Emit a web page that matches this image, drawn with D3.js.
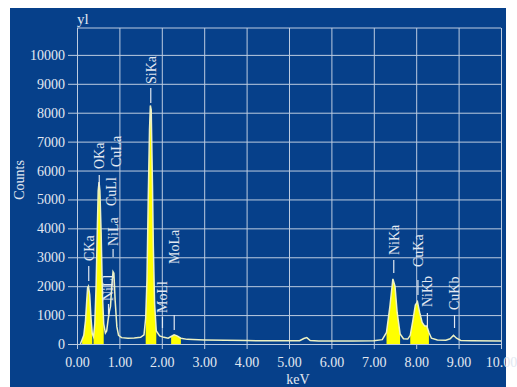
<!DOCTYPE html>
<html>
<head>
<meta charset="utf-8">
<script src="https://cdn.jsdelivr.net/npm/d3@7"></script>
<style>
  html, body { margin: 0; padding: 0; background: #ffffff; }
  svg { display: block; font-family: "Liberation Serif", "DejaVu Serif", serif; }
</style>
</head>
<body>
<figure id="eds" style="margin:0"></figure>
<script>
// spectrum (keV, counts)
const energies = [0.08, 0.12, 0.16, 0.20, 0.23, 0.25, 0.27, 0.30, 0.33, 0.36, 0.39, 0.42, 0.45, 0.48, 0.50, 0.52, 0.54, 0.57, 0.60, 0.63, 0.67,
  0.70, 0.73, 0.76, 0.79, 0.82, 0.85, 0.87, 0.90, 0.94, 0.98, 1.05, 1.20, 1.35, 1.50, 1.58, 1.62, 1.65, 1.68, 1.71, 1.73, 1.75, 1.78,
  1.80, 1.83, 1.87, 1.95, 2.05, 2.15, 2.22, 2.29, 2.36, 2.45, 2.60, 3.00, 3.50, 4.00, 4.50, 5.00, 5.25, 5.35, 5.42, 5.50, 5.70, 6.00, 6.50,
  7.00, 7.20, 7.30, 7.38, 7.45, 7.50, 7.55, 7.62, 7.70, 7.80, 7.86, 7.92, 7.98, 8.03, 8.08, 8.14, 8.20, 8.25, 8.30, 8.36, 8.50, 8.70,
  8.80, 8.88, 8.95, 9.05, 9.30, 10.00];
const counts = [0, 150, 300, 800, 1500, 1950, 2000, 1700, 900, 350, 250, 700, 2000, 4000, 5300, 5600, 5300, 3800, 1700, 700, 380,
  450, 800, 1100, 1300, 2000, 2500, 2450, 1500, 600, 300, 220, 200, 210, 230, 320, 900, 2200, 5000, 7400, 8250, 8100, 5500,
  3400, 1400, 450, 280, 230, 200, 260, 320, 280, 200, 160, 140, 130, 120, 110, 110, 115, 190, 220, 120, 105, 100, 100,
  110, 150, 400, 1300, 2250, 2000, 1100, 350, 180, 170, 300, 800, 1350, 1460, 1100, 750, 620, 620, 400, 200, 140, 130,
  180, 300, 200, 120, 110, 100];

// energy windows shaded yellow
const windowStart = [0.10, 0.38, 1.60, 2.18, 7.28, 7.84];
const windowEnd   = [0.37, 0.63, 1.88, 2.45, 7.64, 8.30];

// peak labels
const peakNames    = ["CKa", "OKa", "NiLl", "CuLl", "NiLa", "CuLa", "SiKa", "MoLl", "MoLa", "NiKa", "CuKa", "NiKb", "CuKb"];
const peakEnergies = [0.277, 0.525, 0.743, 0.811, 0.851, 0.930, 1.740, 2.016, 2.293, 7.471, 8.041, 8.264, 8.904];

const xTicks = [0, 1, 2, 3, 4, 5, 6, 7, 8, 9, 10];
const yTicks = [0, 1000, 2000, 3000, 4000, 5000, 6000, 7000, 8000, 9000, 10000];

// label placement in pixels: [text bottom, dash top, dash bottom]
const labelPos = {
  CKa: [261, 266, 281], OKa: [169, 175, 187], NiLl: [301, 304, 314], CuLl: [206, null, null],
  NiLa: [246, 249, 257], CuLa: [167, null, null], SiKa: [84, 88, 103], MoLl: [313, 317, 328],
  MoLa: [264, 315, 330], NiKa: [255, 260, 273], CuKa: [267, 280, 295], NiKb: [307, 313, 327],
  CuKb: [310, 315, 328]
};

const W = 517, H = 387;
const plotL = 77, plotR = 501, plotT = 28, plotB = 344;
const textCol = "#e2e8f1";
const gridCol = "#bccbe0";

const svg = d3.select("figure#eds").append("svg")
  .attr("width", W).attr("height", H);

// dark blue panel
svg.append("rect")
  .attr("x", 10).attr("y", 8).attr("width", 496).attr("height", H - 8)
  .attr("fill", "#06408a");

const x = d3.scaleLinear().domain([0, 10]).range([plotL, plotR]);
const y = d3.scaleLinear().domain([0, 10930]).range([plotB, plotT]);

// y axis + horizontal grid
const gy = svg.append("g")
  .attr("transform", "translate(" + plotL + ",0)")
  .call(d3.axisLeft(y).tickValues(yTicks).tickFormat(d3.format("d"))
    .tickSizeInner(-(plotR - plotL)).tickSizeOuter(0).tickPadding(12));
gy.select(".domain").remove();
gy.selectAll("line").attr("x1", -9).attr("stroke", gridCol);
gy.selectAll("text").attr("fill", textCol).style("font-size", "14px")
  .style("font-family", "Liberation Serif, serif");

// x axis + vertical grid
const gx = svg.append("g")
  .attr("transform", "translate(0," + plotB + ")")
  .call(d3.axisBottom(x).tickValues(xTicks).tickFormat(d3.format(".2f"))
    .tickSizeInner(-(plotB - plotT)).tickSizeOuter(0).tickPadding(13));
gx.select(".domain").remove();
gx.selectAll("line").attr("y1", 5).attr("stroke", gridCol);
gx.selectAll("text").attr("fill", textCol).style("font-size", "14px")
  .style("font-family", "Liberation Serif, serif");

// top border
svg.append("line")
  .attr("x1", plotL).attr("x2", plotR).attr("y1", plotT).attr("y2", plotT)
  .attr("stroke", gridCol);

const spectrum = energies.map((e, i) => ({ e: e, c: counts[i] }));

// yellow windows
const area = d3.area()
  .x(d => x(d.e))
  .y0(y(0))
  .y1(d => y(d.c));

windowStart.forEach((s, i) => {
  const pts = spectrum.filter(d => d.e >= s && d.e <= windowEnd[i]);
  svg.append("path")
    .datum(pts)
    .attr("d", area)
    .attr("fill", "#ffff00");
});

// spectrum trace
const line = d3.line()
  .x(d => x(d.e))
  .y(d => y(d.c));

svg.append("path")
  .datum(spectrum)
  .attr("d", line)
  .attr("fill", "none")
  .attr("stroke", "#eef2c4")
  .attr("stroke-width", 1.5);

// peak markers and names
peakNames.forEach((name, i) => {
  const px = x(peakEnergies[i]);
  const p = labelPos[name];
  if (p[1] !== null) {
    svg.append("line")
      .attr("x1", px).attr("x2", px).attr("y1", p[1]).attr("y2", p[2])
      .attr("stroke", textCol).attr("stroke-width", 1.2);
  }
  svg.append("text")
    .attr("transform", "translate(" + px + "," + p[0] + ")rotate(-90)")
    .attr("dy", "0.35em")
    .attr("fill", textCol)
    .style("font-size", "14px")
    .text(name);
});

// axis titles
svg.append("text")
  .attr("x", plotL).attr("y", 24)
  .attr("fill", textCol).style("font-size", "15px")
  .text("yl");

svg.append("text")
  .attr("transform", "translate(24,180)rotate(-90)")
  .attr("text-anchor", "middle")
  .attr("fill", textCol).style("font-size", "14px")
  .text("Counts");

svg.append("text")
  .attr("x", 298).attr("y", 384)
  .attr("text-anchor", "middle")
  .attr("fill", textCol).style("font-size", "14px")
  .text("keV");
</script>
</body>
</html>
